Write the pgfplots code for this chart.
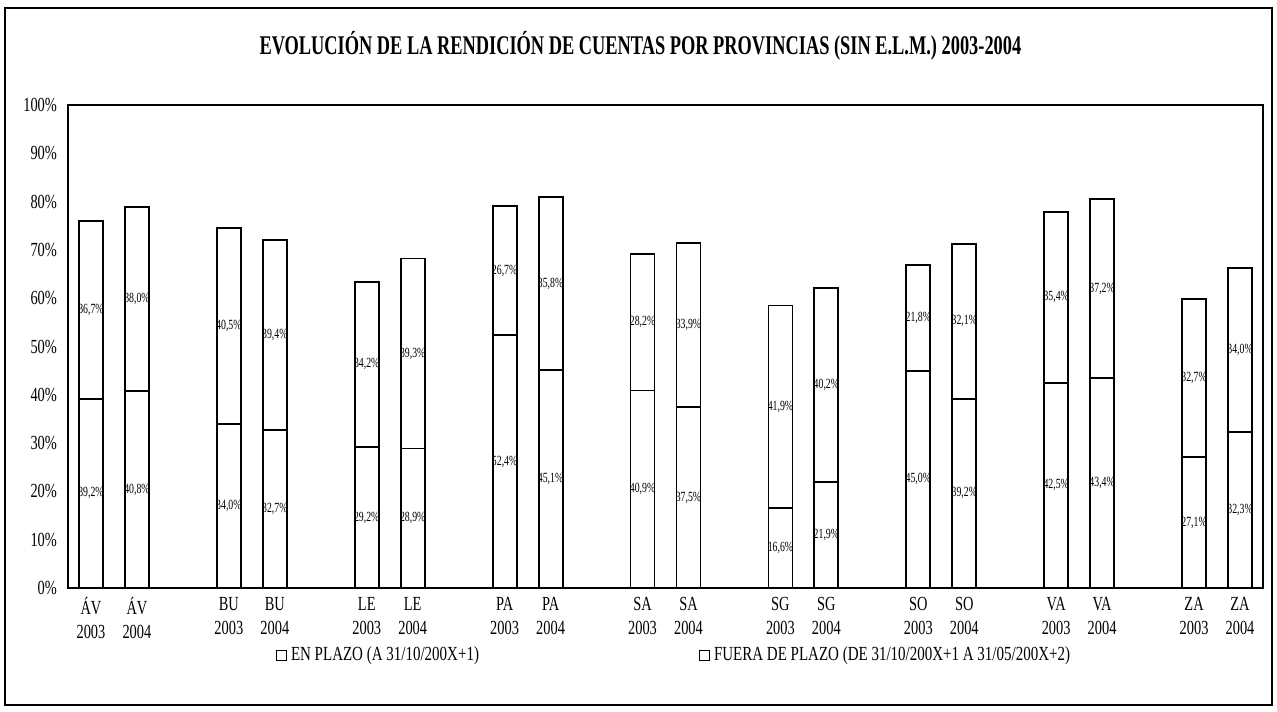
\documentclass[border=0pt]{standalone}
\usepackage{fontspec}
\setmainfont{Liberation Serif}
\newfontfamily\titlefont{Liberation Serif}[FakeStretch=0.68]
\newfontfamily\tickfont{Liberation Serif}[FakeStretch=0.72]
\newfontfamily\legfont{Liberation Serif}[FakeStretch=0.75]
\newfontfamily\lblfont{Liberation Serif}[FakeStretch=0.7]
\usepackage{pgfplots}
\usepackage{pgfplotstable}
\pgfplotsset{compat=1.18}

\pgfplotstableread{
x en fuera
0 39.2 36.7
1 40.8 38.0
3 34.0 40.5
4 32.7 39.4
6 29.2 34.2
7 28.9 39.3
9 52.4 26.7
10 45.1 35.8
12 40.9 28.2
13 37.5 33.9
15 16.6 41.9
16 21.9 40.2
18 45.0 21.8
19 39.2 32.1
21 42.5 35.4
22 43.4 37.2
24 27.1 32.7
25 32.3 34.0
}\datatable

\pgfplotsset{
  commonaxis/.style={
    scale only axis,
    width=597.5pt, height=241.5pt,
    xmin=-0.5, xmax=25.5,
    ymin=0, ymax=100,
  }
}

\begin{document}
\begin{tikzpicture}
\path[use as bounding box] (-34pt,-61.5pt) rectangle (604.5pt,294pt);
\draw[line width=1.2pt] (-31.5pt,-58.5pt) rectangle (602pt,290pt);
\begin{axis}[
  commonaxis,
  ybar stacked,
  bar width=12pt,
  axis line style={black, line width=0.6pt},
  tick style={draw=none},
  ytick={0,10,...,100},
  yticklabel={\pgfmathprintnumber{\tick}\%},
  yticklabel style={/pgf/number format/assume math mode=true, font=\tickfont\fontsize{10}{12}\selectfont, xshift=-2pt},
  xtick={0,1,3,4,6,7,9,10,12,13,15,16,18,19,21,22,24,25},
  xticklabels={ÁV\\2003,ÁV\\2004,BU\\2003,BU\\2004,LE\\2003,LE\\2004,PA\\2003,PA\\2004,SA\\2003,SA\\2004,SG\\2003,SG\\2004,SO\\2003,SO\\2004,VA\\2003,VA\\2004,ZA\\2003,ZA\\2004},
  xticklabel style={align=center, font=\tickfont\fontsize{10}{12}\selectfont, yshift=-1pt},
  title={EVOLUCIÓN DE LA RENDICIÓN DE CUENTAS POR PROVINCIAS (SIN E.L.M.) 2003-2004},
  title style={at={(0.479,1)}, anchor=center, yshift=23.5pt, font=\titlefont\bfseries\fontsize{13.5}{15}\selectfont},
  legend style={at={(0.508,-0.139)}, anchor=center, draw=none, legend columns=2,
    font=\legfont\fontsize{10}{12}\selectfont,
    /tikz/every even column/.append style={column sep=108pt}},
  legend image code/.code={\draw[fill=white, line width=0.5pt] (0pt,-2.5pt) rectangle (5pt,2.5pt);},
]
\addplot[fill=white, draw=black, line width=0.9pt] table[x=x, y=en] {\datatable};
\addplot[fill=white, draw=black, line width=0.9pt] table[x=x, y=fuera] {\datatable};
\legend{EN PLAZO (A 31/10/200X+1), FUERA DE PLAZO (DE 31/10/200X+1 A 31/05/200X+2)}
\end{axis}
\begin{axis}[
  commonaxis,
  hide axis,
  nodes near coords={\pgfmathprintnumber[fixed, fixed zerofill, precision=1, use comma, assume math mode=true]{\pgfplotspointmeta}\%},
  every node near coord/.append style={anchor=center, inner sep=0pt, font=\lblfont\fontsize{7}{8}\selectfont},
]
\addplot[draw=none, mark=none, point meta=\thisrow{en}] table[x=x, y expr=\thisrow{en}/2] {\datatable};
\addplot[draw=none, mark=none, point meta=\thisrow{fuera}] table[x=x, y expr=\thisrow{en}+\thisrow{fuera}/2] {\datatable};
\end{axis}
\end{tikzpicture}
\end{document}
